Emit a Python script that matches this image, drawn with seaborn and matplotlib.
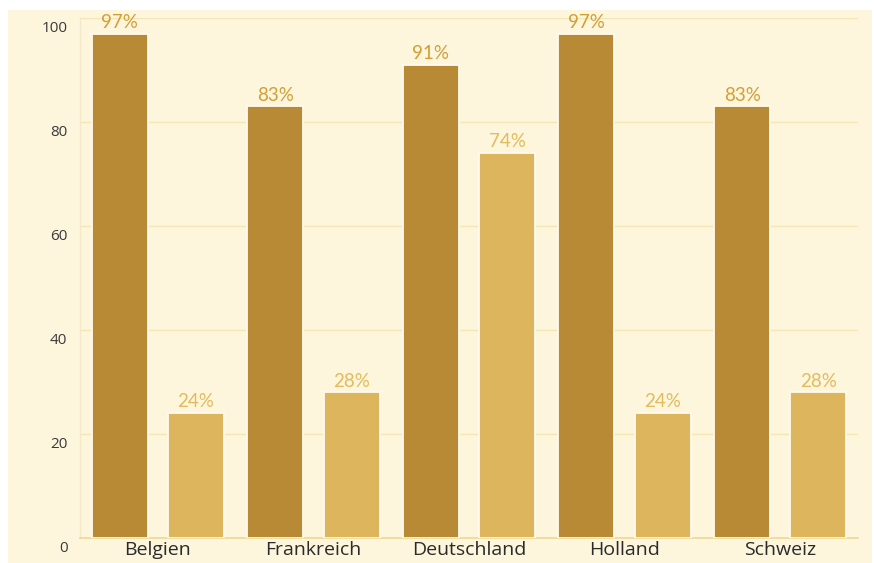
import matplotlib
matplotlib.use("Agg")
import matplotlib.pyplot as plt
import matplotlib.transforms as mtransforms
from matplotlib.patches import Rectangle
import seaborn as sns
import pandas as pd

# ---- data ----
countries = ["Belgien", "Frankreich", "Deutschland", "Holland", "Schweiz"]
series_names = ["Reihe 1", "Reihe 2"]
values_dark = [97, 83, 91, 97, 83]
values_light = [24, 28, 74, 24, 28]
y_ticks = [0, 20, 40, 60, 80, 100]

df = pd.DataFrame({
    "Land": countries * 2,
    "Serie": [series_names[0]] * len(countries) + [series_names[1]] * len(countries),
    "Wert": values_dark + values_light,
})

# ---- style ----
sns.set_theme(style="white")
plt.rcParams["font.family"] = ["Open Sans", "DejaVu Sans"]

dark = "#b98a35"
light = "#dcb55c"
lab_dark = "#d29f35"
lab_light = "#e2bb5c"
bg = "#fdf6dd"
grid = "#f5e6b6"

W, H = 874, 563
fig = plt.figure(figsize=(W / 100, H / 100), dpi=100)
fig.patch.set_facecolor("white")
fig.patches.append(Rectangle((8 / W, 0), 864 / W, (H - 10) / H,
                             transform=fig.transFigure, facecolor=bg,
                             edgecolor="none", zorder=-10))

ax = fig.add_axes([80 / W, (H - 538) / H, 778 / W, 520 / H])
ax.set_facecolor("none")

sns.barplot(data=df, x="Land", y="Wert", hue="Serie", order=countries,
            hue_order=series_names, palette=[dark, light], width=0.98,
            gap=0.265, saturation=1, edgecolor="#fffaf0", linewidth=1.3,
            legend=False, ax=ax, zorder=3)

# value labels
for cont, col in zip(ax.containers, [lab_dark, lab_light]):
    labels = [f"{int(round(v))}%" for v in cont.datavalues]
    ax.bar_label(cont, labels=labels, padding=2, color=col, fontsize=13.5,
                 family=["Lato", "DejaVu Sans"])

ax.set_xlim(-0.5, 4.5)
ax.set_ylim(0, 100)
ax.set_yticks(y_ticks)
ax.set_yticklabels([str(t) for t in y_ticks])
ax.set_xlabel("")
ax.set_ylabel("")

ax.yaxis.grid(True, color=grid, linewidth=1, zorder=0)
ax.xaxis.grid(False)
for s in ["top", "right"]:
    ax.spines[s].set_visible(False)
ax.spines["left"].set_color("#f3e8c8")
ax.spines["left"].set_linewidth(1)
ax.spines["bottom"].set_color("#eed894")
ax.spines["bottom"].set_linewidth(1.2)

ax.tick_params(axis="y", length=0, pad=9, labelsize=11, labelcolor="#3a3a3a")
ax.tick_params(axis="x", which="major", length=0, pad=2.5, labelsize=14,
               labelcolor="#2a2a2a")
ax.set_xticks([-0.5, 0.5, 1.5, 2.5, 3.5, 4.5], minor=True)
ax.tick_params(axis="x", which="minor", direction="in", length=9,
               color="#f0dfae", width=1)

# shift y tick labels slightly below their gridlines
offset = mtransforms.ScaledTranslation(0, -9 / 100, fig.dpi_scale_trans)
for lbl in ax.get_yticklabels():
    lbl.set_transform(lbl.get_transform() + offset)

fig.savefig("out.png", dpi=100, facecolor=fig.get_facecolor())
